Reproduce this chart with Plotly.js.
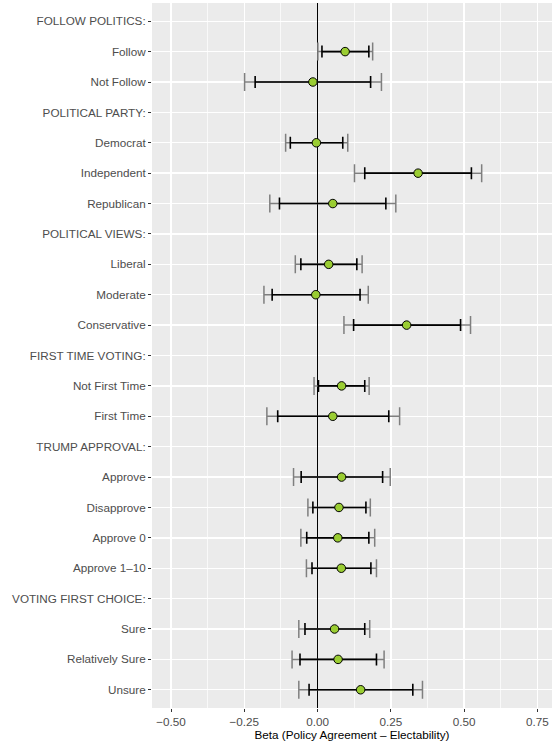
<!DOCTYPE html>
<html>
<head>
<meta charset="utf-8">
<script src="https://cdn.plot.ly/plotly-3.0.1.min.js"></script>
<style>html,body{margin:0;padding:0;background:#fff;}#chart{width:552px;height:747px;}</style>
</head>
<body>
<div id="chart"></div>
<script>
// Row labels (top to bottom)
var labels = ["FOLLOW POLITICS:", "Follow", "Not Follow",
  "POLITICAL PARTY:", "Democrat", "Independent", "Republican",
  "POLITICAL VIEWS:", "Liberal", "Moderate", "Conservative",
  "FIRST TIME VOTING:", "Not First Time", "First Time",
  "TRUMP APPROVAL:", "Approve", "Disapprove", "Approve 0", "Approve 1\u201310",
  "VOTING FIRST CHOICE:", "Sure", "Relatively Sure", "Unsure"];
// Point estimates (null for header rows)
var estimate = [null, 0.094, -0.016,
  null, -0.004, 0.343, 0.052,
  null, 0.038, -0.006, 0.304,
  null, 0.082, 0.052,
  null, 0.082, 0.073, 0.069, 0.081,
  null, 0.058, 0.070, 0.147];
// 90% interval (black)
var lo90 = [null, 0.015, -0.213,
  null, -0.093, 0.161, -0.130,
  null, -0.057, -0.155, 0.123,
  null, 0.003, -0.136,
  null, -0.056, -0.016, -0.037, -0.019,
  null, -0.043, -0.060, -0.029];
var hi90 = [null, 0.175, 0.181,
  null, 0.086, 0.525, 0.233,
  null, 0.134, 0.145, 0.488,
  null, 0.161, 0.243,
  null, 0.222, 0.165, 0.175, 0.182,
  null, 0.161, 0.201, 0.325];
// 95% interval (grey)
var lo95 = [null, 0.001, -0.249,
  null, -0.109, 0.126, -0.163,
  null, -0.076, -0.183, 0.090,
  null, -0.012, -0.173,
  null, -0.082, -0.033, -0.057, -0.038,
  null, -0.064, -0.087, -0.064];
var hi95 = [null, 0.188, 0.218,
  null, 0.103, 0.560, 0.267,
  null, 0.152, 0.173, 0.522,
  null, 0.176, 0.280,
  null, 0.248, 0.180, 0.195, 0.201,
  null, 0.178, 0.227, 0.358];
var xTicks = [-0.5, -0.25, 0, 0.25, 0.5, 0.75];
var xTickText = ["\u22120.50", "\u22120.25", "0.00", "0.25", "0.50", "0.75"];
var xMinor = [-0.375, -0.125, 0.125, 0.375, 0.625];

function diff(a, b, sign) {
  return a.map(function (v, i) { return v === null ? null : sign * (v - b[i]); });
}
var yIdx = labels.map(function (_, i) { return i; });

var traces = [
  {
    type: "scatter", mode: "markers", x: estimate, y: yIdx,
    marker: {color: "rgba(0,0,0,0)", size: 1},
    error_x: {type: "data", symmetric: false,
      array: diff(hi95, estimate, 1), arrayminus: diff(lo95, estimate, -1),
      color: "#7f7f7f", thickness: 1.5, width: 9},
    hoverinfo: "skip", showlegend: false
  },
  {
    type: "scatter", mode: "markers", x: estimate, y: yIdx,
    marker: {color: "rgba(0,0,0,0)", size: 1},
    error_x: {type: "data", symmetric: false,
      array: diff(hi90, estimate, 1), arrayminus: diff(lo90, estimate, -1),
      color: "#000000", thickness: 1.6, width: 6},
    hoverinfo: "skip", showlegend: false
  },
  {
    type: "scatter", mode: "markers", x: estimate, y: yIdx,
    marker: {color: "#9ACD32", size: 8.5, line: {color: "#000000", width: 1}},
    showlegend: false
  }
];

var layout = {
  width: 552, height: 747,
  margin: {l: 152, r: 0, t: 3, b: 39},
  paper_bgcolor: "#ffffff",
  plot_bgcolor: "#EBEBEB",
  font: {family: "Liberation Sans, Arial, sans-serif", size: 11.7, color: "#4D4D4D"},
  xaxis: {
    range: [-0.565, 0.80],
    tickmode: "array", tickvals: xTicks, ticktext: xTickText,
    showgrid: true, gridcolor: "#ffffff", gridwidth: 1.4,
    minor: {tickmode: "array", tickvals: xMinor, showgrid: true, gridcolor: "#ffffff", gridwidth: 0.7, ticks: ""},
    zeroline: true, zerolinecolor: "#000000", zerolinewidth: 1.5,
    showline: false,
    ticks: "outside", ticklen: 3, tickwidth: 1, tickcolor: "#333333",
    tickfont: {size: 11.7, color: "#4D4D4D"},
    title: {text: "Beta (Policy Agreement \u2013 Electability)", font: {size: 11.7, color: "#000000"}, standoff: 3}
  },
  yaxis: {
    range: [labels.length - 0.4, -0.6],
    tickmode: "array", tickvals: yIdx, ticktext: labels,
    showgrid: true, gridcolor: "#ffffff", gridwidth: 1.4,
    zeroline: false, showline: false,
    ticks: "outside", ticklen: 3, tickwidth: 1, tickcolor: "#333333",
    tickfont: {size: 11.7, color: "#4D4D4D"}
  }
};

Plotly.newPlot("chart", traces, layout, {staticPlot: true, displayModeBar: false});
</script>
</body>
</html>
